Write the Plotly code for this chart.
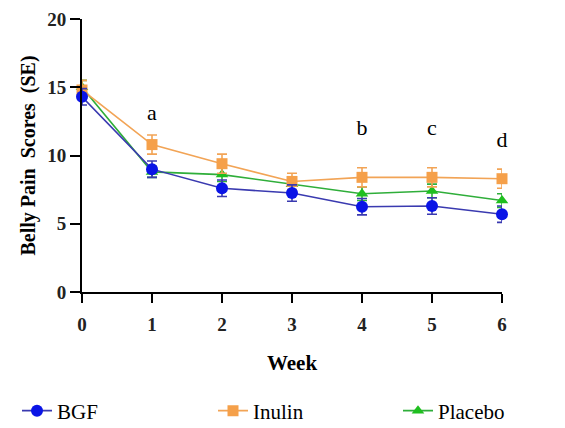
import plotly.graph_objects as go

weeks = [0, 1, 2, 3, 4, 5, 6]
bgf = [14.3, 9.0, 7.6, 7.25, 6.25, 6.3, 5.7]
bgf_se = [0.6, 0.6, 0.6, 0.6, 0.6, 0.6, 0.6]
inulin = [14.8, 10.8, 9.4, 8.1, 8.4, 8.4, 8.3]
inulin_se = [0.7, 0.7, 0.7, 0.6, 0.7, 0.7, 0.7]
placebo = [15.0, 8.8, 8.6, 7.9, 7.2, 7.4, 6.7]
placebo_se = [0.5, 0.4, 0.5, 0.5, 0.5, 0.5, 0.5]
sig_weeks = [1, 4, 5, 6]
sig_labels = ["a", "b", "c", "d"]
sig_y = [13.0, 11.9, 11.9, 11.0]

serif = '"Liberation Serif", "DejaVu Serif", serif'

W, H = 557, 420

fig = go.Figure()
series = [
    ("Placebo", placebo, placebo_se, "#2fae3a", "#1fbf1f", "triangle-up", 11, "legend3"),
    ("Inulin", inulin, inulin_se, "#f2a456", "#f5a04a", "square", 11, "legend2"),
    ("BGF", bgf, bgf_se, "#3a3ab0", "#0a14e6", "circle", 12, "legend"),
]
for name, y, se, lc, mc, sym, sz, lg in series:
    fig.add_trace(go.Scatter(
        x=weeks, y=y, name=name, mode="lines+markers",
        line=dict(color=lc, width=1.6),
        marker=dict(color=mc, symbol=sym, size=sz),
        error_y=dict(type="data", array=se, visible=True, color=lc, thickness=1.6, width=5),
        cliponaxis=False, legend=lg,
    ))

fig.add_trace(go.Scatter(
    x=sig_weeks, y=sig_y, mode="text", text=sig_labels, showlegend=False,
    textfont=dict(family=serif, size=22, color="black"), cliponaxis=False,
))

leg_common = dict(orientation="h", xref="container", yref="container", yanchor="middle",
                  y=1 - 403 / H, xanchor="left", bgcolor="rgba(0,0,0,0)",
                  font=dict(family=serif, size=21, color="black"), itemwidth=30)

fig.update_layout(
    width=W, height=H,
    margin=dict(l=74, r=63, t=11, b=136, autoexpand=False),
    plot_bgcolor="white", paper_bgcolor="white",
    font=dict(family=serif, color="black"),
    showlegend=True,
    legend=dict(x=9 / W, **leg_common),
    legend2=dict(x=205 / W, **leg_common),
    legend3=dict(x=390 / W, **leg_common),
    xaxis=dict(range=[0, 6], tickvals=weeks, showline=True, linecolor="black", linewidth=2,
               ticks="outside", ticklen=9, tickwidth=2, tickcolor="black",
               showgrid=False, zeroline=False, ticklabelstandoff=5,
               tickfont=dict(family=serif, size=19, color="#222", weight="bold"),
               title=dict(text="Week", font=dict(family=serif, size=21, weight="bold"), standoff=22)),
    yaxis=dict(range=[0, 20], tickvals=[0, 5, 10, 15, 20], showline=True, linecolor="black", linewidth=2,
               ticks="outside", ticklen=10, tickwidth=2, tickcolor="black",
               showgrid=False, zeroline=False,
               tickfont=dict(family=serif, size=19, color="#222", weight="bold"),
               title=dict(text="Belly Pain  Scores  (SE)", font=dict(family=serif, size=20, weight="bold"), standoff=6)),
)

fig.write_html("out.html")
